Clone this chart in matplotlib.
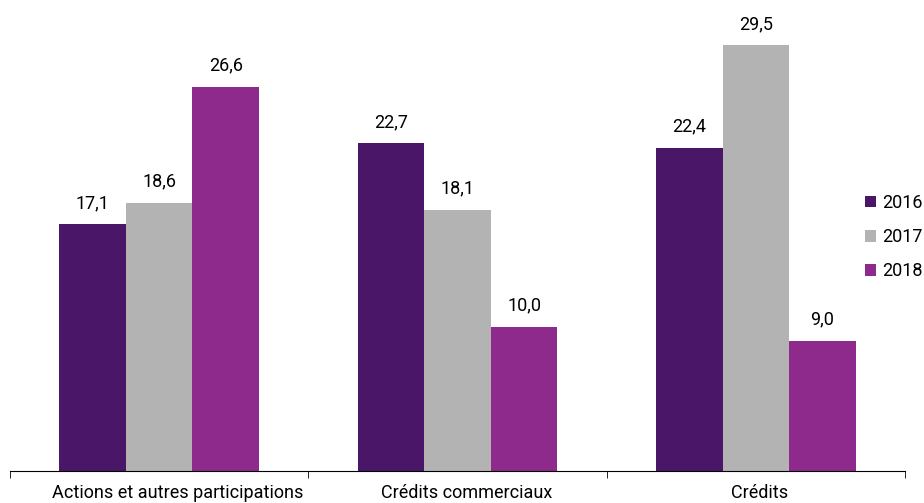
import numpy as np
import matplotlib.pyplot as plt
from matplotlib.transforms import ScaledTranslation

# Données
categories = ["Actions et autres participations", "Crédits commerciaux", "Crédits"]
annees = ["2016", "2017", "2018"]
v2016 = [17.1, 22.7, 22.4]
v2017 = [18.6, 18.1, 29.5]
v2018 = [26.6, 10.0, 9.0]
couleurs = ["#4a1668", "#b3b3b3", "#8e2a8c"]

plt.rcParams['font.family'] = ['Roboto', 'DejaVu Sans']

fig = plt.figure(figsize=(9.24, 5.03), dpi=100)
ax = fig.add_axes([10 / 924, 1 - 471 / 503, 895 / 924, (471 - 38) / 503])

x = np.arange(len(categories))
largeur = 0.223
series = [v2016, v2017, v2018]
for i, (vals, c, lab) in enumerate(zip(series, couleurs, annees)):
    pos = x + (i - 1) * largeur
    bars = ax.bar(pos, vals, width=largeur, color=c, label=lab)
    for b, v in zip(bars, vals):
        ax.text(b.get_x() + b.get_width() / 2, v + 0.85, f"{v:.1f}".replace(".", ","),
                ha='center', va='bottom', fontsize=13)

ax.set_xlim(-0.5, 2.5)
ax.set_ylim(0, 30)
ax.set_yticks([])
for s in ['top', 'right', 'left']:
    ax.spines[s].set_visible(False)
ax.spines['bottom'].set_color('black')
ax.set_xticks([-0.5, 0.5, 1.5, 2.5], minor=True)
ax.set_xticks(x)
ax.set_xticklabels(categories, fontsize=13)
ax.tick_params(axis='x', which='major', length=0, pad=9)
ax.tick_params(axis='x', which='minor', length=5, direction='out')

# les étiquettes de l'original ne sont pas tout à fait centrées
decalages = [19, 9, 4]
for lbl, d in zip(ax.get_xticklabels(), decalages):
    lbl.set_transform(lbl.get_transform() + ScaledTranslation(d / 100, 0, fig.dpi_scale_trans))

leg = ax.legend(loc='center left', bbox_to_anchor=(0.955, 0.54), frameon=False,
                fontsize=13, handlelength=0.6, handleheight=0.6, labelspacing=0.9,
                handletextpad=0.35, borderpad=0, borderaxespad=0)

fig.savefig("out.png", dpi=100)
